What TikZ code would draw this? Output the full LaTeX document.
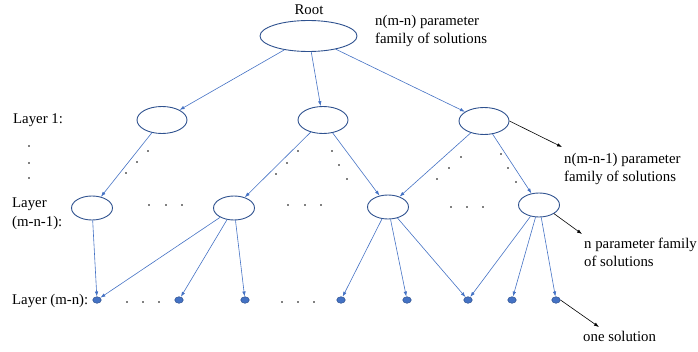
\documentclass[tikz,border=0pt]{standalone}
\usepackage{fontspec}
\setmainfont{Liberation Serif}
\usetikzlibrary{arrows.meta,shapes.geometric}
\definecolor{nodeblue}{HTML}{2F528F}
\definecolor{edgeblue}{HTML}{4472C4}
\tikzset{
  famnode/.style={draw=nodeblue, ellipse, line width=0.9pt, inner sep=0pt},
  rootnode/.style={famnode, minimum width=97pt, minimum height=31pt},
  layone/.style={famnode, minimum width=50pt, minimum height=27pt},
  laytwo/.style={famnode, minimum width=41pt, minimum height=24pt},
  leaf/.style={draw=nodeblue, fill=edgeblue, ellipse, line width=0.5pt, inner sep=0pt,
    minimum width=8.5pt, minimum height=6.5pt},
  link/.style={edgeblue, line width=0.6pt, -{Latex[length=5pt,width=3.5pt]}},
  note/.style={black, line width=0.6pt, -{Latex[length=5pt,width=3.5pt]}},
  lbl/.style={font=\fontsize{14.8}{18}\selectfont, align=left, anchor=west, inner sep=0pt}
}
\begin{document}
\begin{tikzpicture}[x=1pt,y=-1pt]
    \useasboundingbox (0,0) rectangle (698,351);
    % tree nodes
    \node[rootnode] (root) at (308.5,36) {};
    \node[layone] (a1) at (162,120) {};
    \node[layone] (a2) at (323,120) {};
    \node[layone] (a3) at (484,121) {};
    \node[laytwo] (b1) at (92,208) {};
    \node[laytwo] (b2) at (234,208) {};
    \node[laytwo] (b3) at (388,207) {};
    \node[laytwo] (b4) at (539,205) {};
    \foreach \n/\x in {1/97,2/179,3/245,4/341,5/407,6/468,7/512,8/556}
        \node[leaf] (c\n) at (\x,300) {};
    % labels
    \node[font=\fontsize{14.8}{18}\selectfont] (rootlbl) at (309,10) {Root};
    \node[lbl] (fam0) at (375,31) {n(m-n) parameter\\family of solutions};
    \node[lbl] (fam1) at (564,169) {n(m-n-1) parameter\\family of solutions};
    \node[lbl] (fam2) at (584,252) {n parameter family\\of solutions};
    \node[lbl] (fam3) at (583,336) {one solution};
    \node[lbl] (lay1) at (13,120) {Layer 1:};
    \node[lbl, font=\fontsize{14.8}{19}\selectfont] (lay2) at (12,213.5) {Layer\\(m-n-1):};
    \node[lbl] (lay3) at (12,301) {Layer (m-n):};
    \coordinate (p1) at (562,147);
    \coordinate (p2) at (582,234);
    \coordinate (p3) at (599,327);
    % edges
    \draw[link] (root) -- (a1);
    \draw[link] (root) -- (a2);
    \draw[link] (root) -- (a3);
    \draw[link] (a1) -- (b1);
    \draw[link] (a2) -- (b2);
    \draw[link] (a2) -- (b3);
    \draw[link] (a3) -- (b3);
    \draw[link] (a3) -- (b4);
    \draw[link] (b1) -- (c1);
    \draw[link] (b2) -- (c1);
    \draw[link] (b2) -- (c2);
    \draw[link] (b2) -- (c3);
    \draw[link] (b3) -- (c4);
    \draw[link] (b3) -- (c5);
    \draw[link] (b3) -- (c6);
    \draw[link] (b4) -- (c6);
    \draw[link] (b4) -- (c7);
    \draw[link] (b4) -- (c8);
    \draw[note] (a3.east) -- (p1);
    \draw[note] (b4.-30) -- (p2);
    \draw[note] (c8.east) -- (p3);
    % ellipsis dots
    \foreach \x/\y in {29/146,29/163,29/178,
        148/151,137/162,126/173, 298/151,287/163,276/174, 332/151,339/165,347/179,
        461/157,449/168,437/179, 501/154,508/168,516/182,
        149/205,166/205,182/205, 288/205,305/205,321/205, 451/207,467/207,483/207,
        127/302,143/302,159/302, 282/302,298/302,314/302}
        \fill (\x,\y) circle (0.9pt);
\end{tikzpicture}
\end{document}
